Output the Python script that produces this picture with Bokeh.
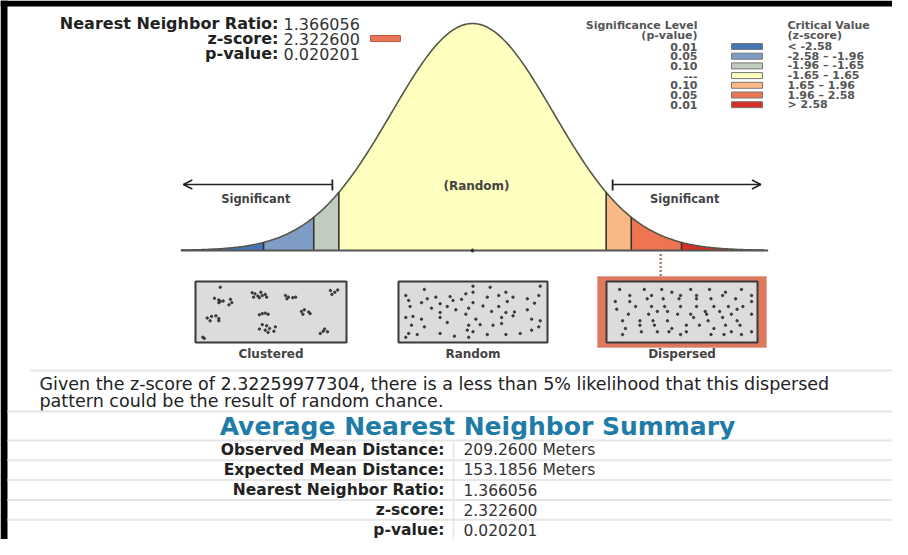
import numpy as np
from bokeh.plotting import figure
from bokeh.models import Range1d, Arrow, OpenHead
from bokeh.core.properties import value
from bokeh.embed import file_html
from bokeh.resources import INLINE

# ---------------- data ----------------
nn_ratio_label = "1.366056"
z_score = 2.3226
z_score_label = "2.322600"
p_value_label = "0.020201"

sig_levels = ["0.01", "0.05", "0.10", "---", "0.10", "0.05", "0.01"]
crit_labels = ["< -2.58", "-2.58 \u2013 -1.96", "-1.96 \u2013 -1.65", "-1.65 \u2013 1.65",
               "1.65 \u2013 1.96", "1.96 \u2013 2.58", "> 2.58"]
bin_edges = [-3.6, -2.58, -1.96, -1.65, 1.65, 1.96, 2.58, 3.6]
bin_colors = ["#4575b5", "#7f9cc4", "#c0ccbe", "#ffffbf", "#fab984", "#ed7551", "#d62f27"]
z_marker_color = "#e8775a"

pattern_names = ["Clustered", "Random", "Dispersed"]

summary_title = "Average Nearest Neighbor Summary"
summary_labels = ["Observed Mean Distance:", "Expected Mean Distance:",
                  "Nearest Neighbor Ratio:", "z-score:", "p-value:"]
summary_values = ["209.2600 Meters", "153.1856 Meters", "1.366056", "2.322600", "0.020201"]

message_lines = ["Given the z-score of 2.32259977304, there is a less than 5% likelihood that this dispersed",
                 "pattern could be the result of random chance."]

# point patterns (relative positions inside each box, 0..1)
clustered_x = [0.15, 0.11, 0.14, 0.15, 0.17, 0.22, 0.23, 0.21, 0.14,
               0.37, 0.39, 0.43, 0.46, 0.38, 0.42, 0.47, 0.44, 0.41,
               0.60, 0.62, 0.65, 0.67, 0.61,
               0.91, 0.94, 0.96, 0.92,
               0.06, 0.08, 0.09, 0.12, 0.14, 0.14,
               0.42, 0.44, 0.46, 0.48,
               0.71, 0.73, 0.76, 0.72, 0.77,
               0.44, 0.47, 0.42, 0.46, 0.49, 0.52, 0.48, 0.53,
               0.84, 0.86, 0.89, 0.87,
               0.03, 0.04]
clustered_y = [0.05, 0.25, 0.28, 0.31, 0.30, 0.27, 0.33, 0.37, 0.33,
               0.15, 0.17, 0.14, 0.18, 0.23, 0.24, 0.23, 0.20, 0.21,
               0.20, 0.23, 0.24, 0.23, 0.26,
               0.11, 0.14, 0.10, 0.18,
               0.61, 0.66, 0.58, 0.57, 0.62, 0.66,
               0.55, 0.53, 0.52, 0.54,
               0.49, 0.46, 0.50, 0.54, 0.53,
               0.73, 0.75, 0.81, 0.83, 0.80, 0.85, 0.87, 0.77,
               0.89, 0.85, 0.86, 0.81,
               0.96, 0.98]

random_x = [0.16, 0.50, 0.62, 0.97, 0.03, 0.18, 0.24, 0.34, 0.45, 0.50, 0.73, 0.88, 0.96,
            0.05, 0.14, 0.27, 0.36, 0.42, 0.50, 0.60, 0.68, 0.78, 0.06, 0.21, 0.32, 0.47,
            0.57, 0.68, 0.74, 0.93, 0.27, 0.38, 0.63, 0.73, 0.79, 0.88, 0.03, 0.08, 0.14,
            0.27, 0.45, 0.52, 0.70, 0.78, 0.91, 0.97, 0.07, 0.16, 0.32, 0.47, 0.55, 0.64,
            0.70, 0.96, 0.05, 0.11, 0.27, 0.37, 0.46, 0.50, 0.60, 0.73, 0.83, 0.91, 0.03, 0.47]
random_y = [0.09, 0.03, 0.05, 0.03, 0.20, 0.26, 0.23, 0.22, 0.17, 0.14, 0.14, 0.26, 0.20,
            0.29, 0.33, 0.35, 0.29, 0.27, 0.33, 0.23, 0.20, 0.23, 0.40, 0.43, 0.40, 0.43,
            0.39, 0.40, 0.31, 0.34, 0.51, 0.46, 0.49, 0.51, 0.50, 0.46, 0.60, 0.58, 0.63,
            0.60, 0.54, 0.63, 0.60, 0.57, 0.63, 0.66, 0.74, 0.77, 0.69, 0.74, 0.73, 0.74,
            0.71, 0.77, 0.89, 0.91, 0.89, 0.94, 0.83, 0.86, 0.91, 0.91, 0.89, 0.83, 0.96, 0.96]

dispersed_x = [0.07, 0.24, 0.36, 0.56, 0.69, 0.91, 0.43, 0.80,
               0.14, 0.29, 0.49, 0.60, 0.78, 0.98,
               0.26, 0.37, 0.48, 0.60, 0.70, 0.87,
               0.04, 0.14, 0.98,
               0.18, 0.29, 0.38, 0.49, 0.60, 0.72, 0.82, 0.92,
               0.05, 0.88,
               0.33, 0.40, 0.66, 0.76,
               0.13, 0.27, 0.47, 0.56, 0.67, 0.84, 0.98,
               0.58, 0.78,
               0.09, 0.21, 0.30, 0.40, 0.68, 0.88,
               0.21, 0.31, 0.53, 0.62, 0.80, 0.90,
               0.11, 0.43, 0.72,
               0.22, 0.33, 0.41, 0.53, 0.84, 0.98,
               0.09, 0.49, 0.70, 0.79, 0.91]
dispersed_y = [0.09, 0.09, 0.09, 0.09, 0.09, 0.09, 0.14, 0.14,
               0.20, 0.20, 0.20, 0.20, 0.20, 0.20,
               0.26, 0.26, 0.26, 0.26, 0.26, 0.26,
               0.31, 0.31, 0.31,
               0.40, 0.40, 0.40, 0.40, 0.40, 0.40, 0.40, 0.40,
               0.45, 0.45,
               0.49, 0.49, 0.49, 0.49,
               0.54, 0.54, 0.54, 0.54, 0.54, 0.54, 0.54,
               0.60, 0.60,
               0.66, 0.66, 0.66, 0.66, 0.66, 0.66,
               0.74, 0.74, 0.74, 0.74, 0.74, 0.74,
               0.80, 0.80, 0.80,
               0.86, 0.86, 0.86, 0.86, 0.86, 0.86,
               0.91, 0.91, 0.91, 0.91, 0.91]

# ---------------- layout constants (picture-pixel space) ----------------
W, H = 892, 539
Z_CENTER, PX_PER_Z = 472, 81.0
BASE_Y, PEAK_Y = 250, 23
PEAK_PDF = 1.0 / np.sqrt(2 * np.pi)
PDF_PER_PX = PEAK_PDF / (BASE_Y - PEAK_Y)

FONT = value("DejaVu Sans")

p = figure(width=W, height=H, output_backend="svg", toolbar_location=None,
           x_range=Range1d(0, W), y_range=Range1d(H, 0),
           x_axis_type=None, y_axis_type=None, min_border=0,
           background_fill_color="white", border_fill_color="white")
p.outline_line_color = None
p.grid.visible = False
p.extra_x_ranges = {"z": Range1d(-Z_CENTER / PX_PER_Z, (W - Z_CENTER) / PX_PER_Z)}
p.extra_y_ranges = {"pdf": Range1d(-(H - BASE_Y) * PDF_PER_PX, BASE_Y * PDF_PER_PX)}


def pdf(z):
    return np.exp(-0.5 * np.asarray(z) ** 2) / np.sqrt(2 * np.pi)


def txt(x, y, s, size, bold=False, align="left", color="#222222", baseline="middle"):
    p.text(x=[x], y=[y], text=[s], text_font=FONT, text_font_size=value(f"{size}px"),
           text_font_style="bold" if bold else "normal", text_align=align,
           text_baseline=baseline, text_color=color)


# frame borders of the screenshot
p.quad(left=[0], right=[W], top=[0], bottom=[6], fill_color="black", line_color=None)
p.quad(left=[0], right=[7], top=[0], bottom=[H], fill_color="black", line_color=None)

# ---------------- bell curve ----------------
for i, col in enumerate(bin_colors):
    zz = np.linspace(bin_edges[i], bin_edges[i + 1], 120)
    p.varea(x=zz, y1=np.zeros_like(zz), y2=pdf(zz), fill_color=col,
            x_range_name="z", y_range_name="pdf")
zc = np.linspace(bin_edges[0], bin_edges[-1], 400)
p.line(zc, pdf(zc), line_color="#555548", line_width=1.6, x_range_name="z", y_range_name="pdf")
inner_edges = bin_edges[1:-1]
p.segment(x0=inner_edges, y0=[0] * len(inner_edges), x1=inner_edges, y1=list(pdf(inner_edges)),
          line_color="#333333", line_width=1.6, x_range_name="z", y_range_name="pdf")
p.segment(x0=[bin_edges[0]], y0=[0], x1=[bin_edges[-1] + 0.05], y1=[0], line_color="#555555",
          line_width=1.8, x_range_name="z", y_range_name="pdf")
p.scatter(x=[0], y=[0], size=3, color="#333333", x_range_name="z", y_range_name="pdf")

# z-score marker (dotted)
p.segment(x0=[z_score], y0=[-0.006], x1=[z_score], y1=[-(276 - BASE_Y) * PDF_PER_PX],
          line_color="#b07a70", line_width=2.5, line_dash="2 2", x_range_name="z", y_range_name="pdf")

# significance arrows
for zs, ze in [(-1.73, -3.57), (1.73, 3.56)]:
    xs = Z_CENTER + zs * PX_PER_Z
    xe = Z_CENTER + ze * PX_PER_Z
    p.add_layout(Arrow(x_start=xs, y_start=184, x_end=xe, y_end=184, line_width=1.5,
                       line_color="#222222",
                       end=OpenHead(size=9, line_width=1.5, line_color="#222222")))
    p.segment(x0=[xs], y0=[179], x1=[xs], y1=[190], line_color="#222222", line_width=1.8)
    txt((xs + xe) / 2 - 2, 198, "Significant", 11.5, bold=True, align="center", color="#444444")
txt(Z_CENTER + 4, 185, "(Random)", 12, bold=True, align="center", color="#444444")

# ---------------- patterns ----------------
boxes = [(195, 346), (398, 547), (606, 757)]
box_top, box_bot = 281, 342
pts = [(clustered_x, clustered_y), (random_x, random_y), (dispersed_x, dispersed_y)]
p.quad(left=[597], right=[766], top=[276], bottom=[347], fill_color="#e0785e", line_color="#d8a898",
       line_width=1)
for (l, r), (px, py), name in zip(boxes, pts, pattern_names):
    p.quad(left=[l], right=[r], top=[box_top], bottom=[box_bot], fill_color="#dcdcdc",
           line_color="#3a3a3a", line_width=2)
    xs = l + 3 + np.array(px) * (r - l - 6)
    ys = box_top + 3 + np.array(py) * (box_bot - box_top - 6)
    p.scatter(xs, ys, size=2.4, color="#3a3a3a")
    txt((l + r) / 2, 353, name, 12, bold=True, align="center", color="#444444")

# ---------------- header texts ----------------
top_labels = ["Nearest Neighbor Ratio:", "z-score:", "p-value:"]
top_values = [nn_ratio_label, z_score_label, p_value_label]
for i, (lab, val) in enumerate(zip(top_labels, top_values)):
    y = 23 + i * 15
    txt(278, y, lab, 16, bold=True, align="right", color="#222222")
    txt(283, y, val, 16, align="left", color="#333333")
p.quad(left=[370], right=[400], top=[35], bottom=[41], fill_color=z_marker_color,
       line_color="#c05a40", line_width=1)

# legend
LG = 11
txt(697, 25, "Significance Level", LG, bold=True, align="right", color="#555555")
txt(697, 35, "(p-value)", LG, bold=True, align="right", color="#555555")
txt(787, 25, "Critical Value", LG, bold=True, align="left", color="#555555")
txt(787, 35, "(z-score)", LG, bold=True, align="left", color="#555555")
for i, (lv, cl, col) in enumerate(zip(sig_levels, crit_labels, bin_colors)):
    y = 46 + i * 9.7
    txt(697, y, lv, LG, bold=True, align="right", color="#555555")
    txt(787, y, cl, LG, bold=True, align="left", color="#555555")
    p.quad(left=[731], right=[762], top=[y - 3], bottom=[y + 3], fill_color=col,
           line_color="#777777", line_width=1)

# ---------------- message ----------------
p.segment(x0=[30], y0=[370], x1=[W], y1=[370], line_color="#e6e6e6", line_width=2)
for i, line in enumerate(message_lines):
    txt(39, 383 + i * 17, line, 17.5, color="#222222")
p.segment(x0=[7], y0=[411], x1=[W], y1=[411], line_color="#e6e6e6", line_width=2)

# ---------------- summary table ----------------
txt(477, 426, summary_title, 25, bold=True, align="center", color="#1f7ca6")
row_top = 440
row_h = 19.8
for k in range(5):
    yl = row_top + k * row_h
    p.segment(x0=[7], y0=[yl], x1=[W], y1=[yl], line_color="#e6e6e6", line_width=2)
p.segment(x0=[453], y0=[row_top], x1=[453], y1=[H], line_color="#e6e6e6", line_width=1.5)
for i, (lab, val) in enumerate(zip(summary_labels, summary_values)):
    y = row_top + 9.8 + i * row_h
    txt(444, y, lab, 15.5, bold=True, align="right", color="#222222")
    txt(463, y, val, 15.5, align="left", color="#333333")

open("out.html", "w").write(file_html(p, INLINE))
